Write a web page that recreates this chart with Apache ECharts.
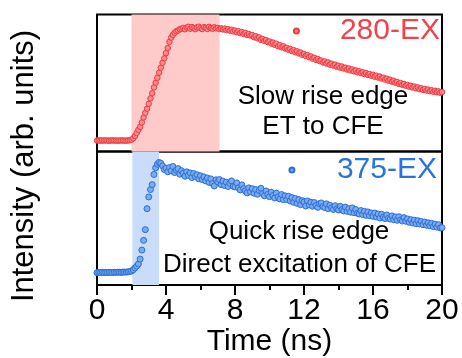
<!DOCTYPE html>
<html>
<head>
<meta charset="utf-8">
<script src="https://cdn.jsdelivr.net/npm/echarts@6/dist/echarts.min.js"></script>
<style>
  html, body { margin: 0; padding: 0; background: #fff; }
  #chart { width: 462px; height: 358px; }
</style>
</head>
<body>
<div id="chart"></div>
<script>
// sampling grid (ns)
const timeStart = 0;
const timeStep = 0.1;

// 280 nm excitation, normalised intensity
const red280 = [
  0.080,0.081,0.079,0.080,0.080,0.081,0.080,0.079,0.080,0.081,
  0.080,0.080,0.079,0.080,0.081,0.080,0.080,0.079,0.081,0.082,
  0.086,0.097,0.112,0.135,0.158,0.180,0.212,0.248,0.282,0.312,
  0.348,0.388,0.425,0.468,0.502,0.538,0.575,0.612,0.648,0.680,
  0.718,0.755,0.800,0.832,0.852,0.866,0.878,0.884,0.892,0.896,
  0.902,0.892,0.905,0.910,0.896,0.908,0.900,0.893,0.906,0.911,
  0.900,0.894,0.908,0.902,0.895,0.910,0.901,0.896,0.907,0.899,
  0.902,0.894,0.899,0.891,0.897,0.886,0.893,0.882,0.889,0.877,
  0.883,0.870,0.878,0.864,0.872,0.858,0.866,0.851,0.858,0.846,
  0.850,0.834,0.842,0.826,0.833,0.815,0.822,0.808,0.813,0.798,
  0.803,0.788,0.795,0.779,0.787,0.768,0.776,0.760,0.768,0.752,
  0.757,0.742,0.749,0.733,0.740,0.724,0.731,0.716,0.722,0.706,
  0.712,0.697,0.704,0.688,0.694,0.678,0.684,0.669,0.675,0.660,
  0.664,0.650,0.657,0.642,0.650,0.634,0.641,0.628,0.634,0.619,
  0.626,0.612,0.620,0.606,0.612,0.598,0.606,0.591,0.599,0.585,
  0.592,0.578,0.586,0.572,0.579,0.565,0.573,0.559,0.566,0.553,
  0.560,0.546,0.553,0.540,0.547,0.532,0.539,0.525,0.532,0.517,
  0.524,0.510,0.516,0.502,0.508,0.493,0.500,0.487,0.493,0.480,
  0.486,0.473,0.480,0.467,0.474,0.461,0.468,0.455,0.462,0.450,
  0.457,0.445,0.452,0.440,0.447,0.436,0.443,0.432,0.439,0.428,0.434
];

// 375 nm excitation, normalised intensity
const blue375 = [
  0.093,0.095,0.094,0.096,0.093,0.095,0.094,0.096,0.095,0.094,
  0.096,0.095,0.097,0.096,0.095,0.097,0.098,0.097,0.099,0.102,
  0.105,0.115,0.128,0.142,0.158,0.195,0.262,0.335,0.415,0.572,
  0.660,0.715,0.752,0.828,0.878,0.905,0.918,0.912,0.892,0.865,
  0.875,0.848,0.880,0.855,0.888,0.842,0.860,0.872,0.830,0.856,
  0.838,0.815,0.848,0.822,0.840,0.805,0.835,0.812,0.826,0.795,
  0.818,0.790,0.810,0.780,0.802,0.768,0.795,0.760,0.742,0.788,
  0.772,0.790,0.752,0.778,0.745,0.770,0.738,0.762,0.780,0.740,
  0.735,0.765,0.728,0.712,0.750,0.722,0.705,0.690,0.728,0.698,
  0.722,0.688,0.715,0.680,0.708,0.725,0.685,0.668,0.705,0.678,
  0.662,0.695,0.670,0.652,0.688,0.660,0.645,0.678,0.640,0.668,
  0.640,0.665,0.630,0.655,0.620,0.648,0.612,0.640,0.602,0.632,
  0.622,0.592,0.630,0.600,0.620,0.590,0.618,0.596,0.582,0.610,
  0.615,0.588,0.580,0.608,0.572,0.598,0.578,0.566,0.594,0.570,
  0.562,0.590,0.565,0.555,0.584,0.552,0.572,0.546,0.578,0.542,
  0.565,0.538,0.532,0.558,0.528,0.552,0.522,0.548,0.520,0.540,
  0.515,0.540,0.510,0.532,0.502,0.530,0.508,0.498,0.525,0.500,
  0.494,0.518,0.490,0.510,0.485,0.512,0.488,0.480,0.505,0.478,
  0.495,0.470,0.490,0.465,0.486,0.460,0.482,0.458,0.476,0.452,
  0.472,0.448,0.466,0.444,0.462,0.438,0.456,0.434,0.452,0.428,0.430
];

// shaded rise windows (ns)
const redWindow = [2.0, 7.1];
const blueWindow = [2.05, 3.6];

const xTicks = [0, 4, 8, 12, 16, 20];

const toPairs = (vals) => vals.map((v, i) => [+(timeStart + i * timeStep).toFixed(2), v]);

const FONT = '"Liberation Sans", Arial, sans-serif';
const RED = '#f0444c';
const BLUE = '#2c72dc';

const chart = echarts.init(document.getElementById('chart'), null, { renderer: 'canvas' });

const option = {
  animation: false,
  backgroundColor: '#fff',
  grid: [
    { left: 97, right: 20, top: 14.5, height: 137, show: true, borderColor: '#000', borderWidth: 2, backgroundColor: 'transparent' },
    { left: 97, right: 20, top: 151.5, height: 138.5, show: true, borderColor: '#000', borderWidth: 2, backgroundColor: 'transparent' }
  ],
  xAxis: [
    { gridIndex: 0, type: 'value', min: 0, max: 20, show: false },
    {
      gridIndex: 1, type: 'value', min: 0, max: 20, interval: 4,
      axisLine: { lineStyle: { color: '#000', width: 2 } },
      axisTick: { show: true, inside: false, length: 10, lineStyle: { color: '#000', width: 2 } },
      minorTick: { show: true, splitNumber: 2, length: 5, lineStyle: { color: '#000', width: 2 } },
      splitLine: { show: false },
      axisLabel: { color: '#000', fontSize: 30, fontFamily: FONT, margin: 11,
        formatter: (v) => xTicks.includes(v) ? String(v) : '' },
      name: 'Time (ns)', nameLocation: 'middle', nameGap: 38,
      nameTextStyle: { color: '#000', fontSize: 30, fontFamily: FONT }
    }
  ],
  yAxis: [
    { gridIndex: 0, type: 'value', min: 0, max: 1, show: false },
    { gridIndex: 1, type: 'value', min: 0, max: 1, show: false }
  ],
  legend: [
    {
      data: ['280-EX'], right: 22, top: 16, padding: 0,
      itemWidth: 77, itemHeight: 5, itemGap: 0,
      textStyle: { color: RED, fontSize: 30, fontFamily: FONT }
    },
    {
      data: ['375-EX'], right: 25, top: 155, padding: 0,
      itemWidth: 80, itemHeight: 5, itemGap: 0,
      textStyle: { color: BLUE, fontSize: 30, fontFamily: FONT }
    }
  ],
  series: [
    {
      name: '280-EX', type: 'scatter', xAxisIndex: 0, yAxisIndex: 0,
      symbol: 'circle', symbolSize: 5.5,
      itemStyle: { color: '#ff8a8a', borderColor: '#ee3a42', borderWidth: 1, opacity: 1 },
      data: toPairs(red280),
      markArea: {
        silent: true,
        itemStyle: { color: '#ffcaca' },
        data: [[{ xAxis: redWindow[0] }, { xAxis: redWindow[1] }]]
      }
    },
    {
      name: '375-EX', type: 'scatter', xAxisIndex: 1, yAxisIndex: 1,
      symbol: 'circle', symbolSize: 6,
      itemStyle: { color: '#7aaaf0', borderColor: '#2a6fd8', borderWidth: 1, opacity: 1 },
      data: toPairs(blue375),
      markArea: {
        silent: true,
        itemStyle: { color: '#c9ddfb' },
        data: [[{ xAxis: blueWindow[0] }, { xAxis: blueWindow[1] }]]
      }
    }
  ],
  graphic: [
    { type: 'text', x: 24, y: 166, rotation: Math.PI / 2,
      style: { text: 'Intensity (arb. units)', fill: '#000', font: '31px ' + FONT, textAlign: 'center', textVerticalAlign: 'middle' } },
    { type: 'text', x: 323, y: 97,
      style: { text: 'Slow rise edge', fill: '#000', font: '26px ' + FONT, textAlign: 'center', textVerticalAlign: 'middle' } },
    { type: 'text', x: 323, y: 127,
      style: { text: 'ET to CFE', fill: '#000', font: '26px ' + FONT, textAlign: 'center', textVerticalAlign: 'middle' } },
    { type: 'text', x: 299, y: 232,
      style: { text: 'Quick rise edge', fill: '#000', font: '26px ' + FONT, textAlign: 'center', textVerticalAlign: 'middle' } },
    { type: 'text', x: 299.5, y: 265,
      style: { text: 'Direct excitation of CFE', fill: '#000', font: '26px ' + FONT, textAlign: 'center', textVerticalAlign: 'middle' } }
  ]
};

chart.setOption(option);
</script>
</body>
</html>
